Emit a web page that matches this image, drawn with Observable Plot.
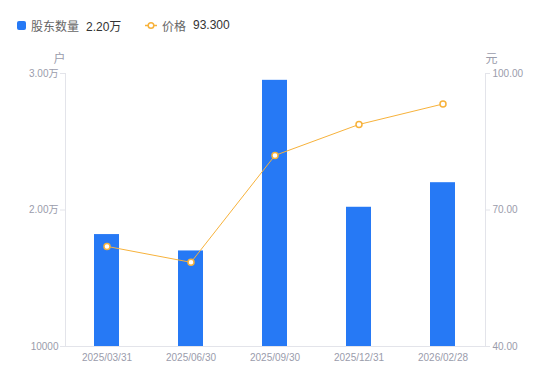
<!DOCTYPE html>
<html><head><meta charset="utf-8">
<script src="https://cdn.jsdelivr.net/npm/d3@7"></script>
<script src="https://cdn.jsdelivr.net/npm/@observablehq/plot@0.6"></script>
<style>
body{margin:0;background:#fff;font-family:"Liberation Sans",Arial,"Noto Sans CJK SC",sans-serif;}
#legend{height:45px;position:relative;font-size:12px;}
#legend .item{position:absolute;top:17px;display:flex;align-items:center;height:16px;white-space:nowrap;}
#legend .name{color:#666;margin-left:5px;}
#legend .val{color:#333;margin-left:7px;}
#chart svg{display:block;}
</style></head><body>
<div id="legend">
  <div class="item" style="left:17px"><svg width="9" height="9"><rect width="9" height="9" rx="2" fill="#2679f5"/></svg><span class="name">股东数量</span><span class="val">2.20万</span></div>
  <div class="item" style="left:145px"><svg width="12" height="9"><line x1="0" x2="12" y1="4.5" y2="4.5" stroke="#f7b23b" stroke-width="1.5"/><circle cx="6" cy="4.5" r="2.8" fill="#fff" stroke="#f7b23b" stroke-width="1.5"/></svg><span class="name">价格</span><span class="val">93.300</span></div>
</div>
<div id="chart"></div>
<script>
const dates = ["2025/03/31","2025/06/30","2025/09/30","2025/12/31","2026/02/28"];
const holders = [18200, 17000, 29500, 20200, 22000];
const prices = [62.0, 58.5, 82.0, 88.8, 93.3];
const leftTicks = [10000, 20000, 30000];
const rightTicks = [40, 70, 100];
const leftMin = 10000, leftMax = 30000, rightMin = 40, rightMax = 100;

const toLeft = p => leftMin + (p - rightMin) / (rightMax - rightMin) * (leftMax - leftMin);
const data = dates.map((d, i) => ({date: d, holders: holders[i], price: prices[i]}));
const axisColor = "#e3e4ea";
const labelColor = "#9a9cab";

const chart = Plot.plot({
  width: 550,
  height: 336,
  marginTop: 28,
  marginBottom: 35,
  marginLeft: 65,
  marginRight: 65,
  style: {fontSize: "10px", fontFamily: "'Liberation Sans', Arial, 'Noto Sans CJK SC', sans-serif", color: labelColor, background: "#fff"},
  x: {type: "band", domain: dates, paddingInner: 0.7, paddingOuter: 0.35, axis: null},
  y: {domain: [leftMin, leftMax], axis: null},
  marks: [
    Plot.frame({anchor: "left", stroke: axisColor}),
    Plot.frame({anchor: "right", stroke: axisColor}),
    Plot.frame({anchor: "bottom", stroke: axisColor}),
    Plot.barY(data, {x: "date", y1: leftMin, y2: "holders", fill: "#2679f5"}),
    Plot.line(data, {x: "date", y: d => toLeft(d.price), stroke: "#f7b23b", strokeWidth: 1}),
    Plot.dot(data, {x: "date", y: d => toLeft(d.price), r: 3, fill: "#fff", stroke: "#f7b23b", strokeWidth: 1.5}),
    Plot.axisY(leftTicks, {anchor: "left", tickSize: 5, tickPadding: 2, stroke: axisColor, fill: labelColor, label: null,
      tickFormat: v => v === 10000 ? "10000" : (v / 10000).toFixed(2) + "万"}),
    Plot.axisY(rightTicks.map(toLeft), {anchor: "right", tickSize: 4, tickPadding: 3, stroke: axisColor, fill: labelColor, label: null,
      tickFormat: (v, i) => rightTicks[i].toFixed(2)}),
    Plot.axisX(dates, {anchor: "bottom", tickSize: 0, tickPadding: 7, fill: labelColor, label: null}),
    Plot.text(["户"], {frameAnchor: "top-left", dx: -6, dy: -11, lineAnchor: "bottom", textAnchor: "middle", fill: labelColor, fontSize: 12}),
    Plot.text(["元"], {frameAnchor: "top-right", dx: 6, dy: -11, lineAnchor: "bottom", textAnchor: "middle", fill: labelColor, fontSize: 12})
  ]
});
document.getElementById("chart").appendChild(chart);
</script>
</body></html>
